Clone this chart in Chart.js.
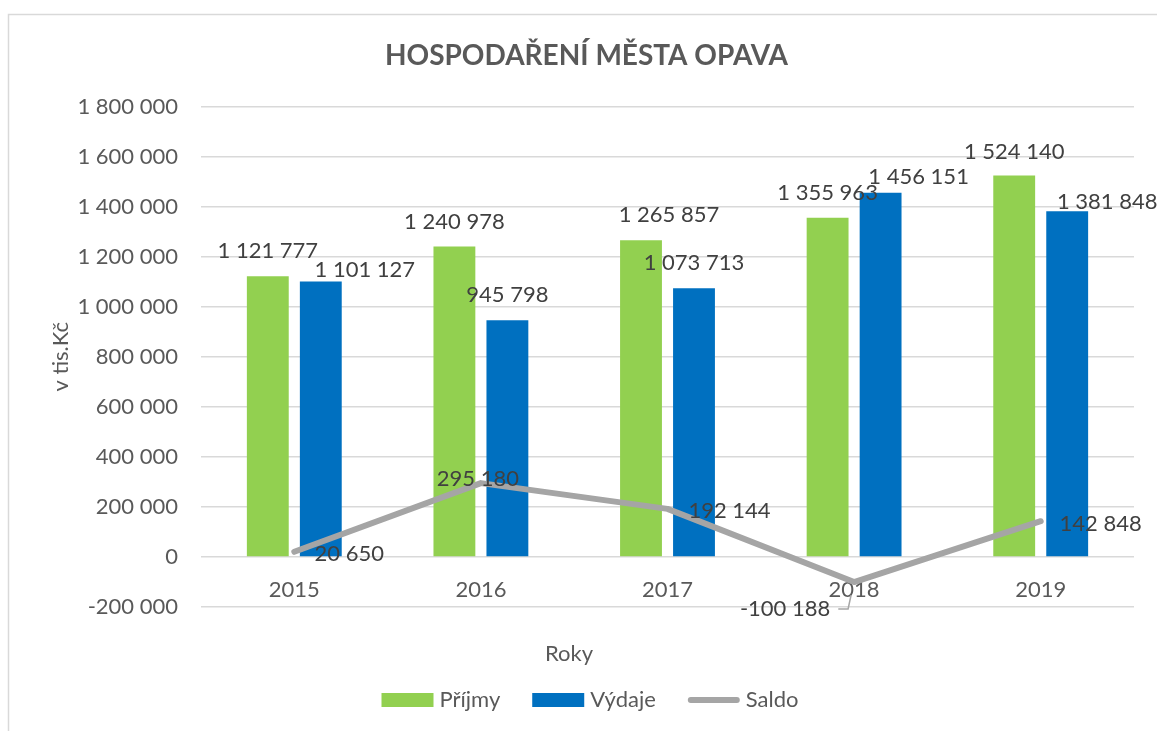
<!DOCTYPE html>
<html lang="cs">
<head>
<meta charset="utf-8">
<title>Hospodaření města Opava</title>
<script src="https://cdn.jsdelivr.net/npm/chart.js@4.4.1/dist/chart.umd.min.js"></script>
<style>
    html, body { margin: 0; padding: 0; background: #ffffff; }
    #wrap { position: relative; width: 1157px; height: 731px; }
</style>
</head>
<body>
<div id="wrap">
    <canvas id="opavaChart" width="1157" height="731"></canvas>
</div>
<script>
// Data (tis. Kč)
const years = ['2015', '2016', '2017', '2018', '2019'];
const prijmy = [1121777, 1240978, 1265857, 1355963, 1524140];
const vydaje = [1101127, 945798, 1073713, 1456151, 1381848];
const saldo = [20650, 295180, 192144, -100188, 142848];
const yTicks = [-200000, 0, 200000, 400000, 600000, 800000, 1000000, 1200000, 1400000, 1600000, 1800000];

// Label shifts (Excel labels were moved by hand) - [dx, dy] from the mark
const prijmyShift = [[0, -25], [0, -25], [28, -25], [0, -25], [0, -24]];
const vydajeShift = [[44, -12], [0, -25], [0, -25], [38, -16], [40, -9]];
const saldoShift = [[55, 2], [-3, -4], [62, 2], [-69, 27], [60, 3]];

const FONT = "Lato, 'Open Sans', 'DejaVu Sans', sans-serif";
const TEXT = '#595959';
const LABEL = '#404040';

// Czech number format: 1 234 567
function formatNum(v) {
    const s = String(Math.abs(Math.round(v))).replace(/\B(?=(\d{3})+(?!\d))/g, ' ');
    return (v < 0 ? '-' : '') + s;
}

// Frame + white background
const framePlugin = {
    id: 'frame',
    beforeDraw(chart) {
        const ctx = chart.ctx;
        ctx.save();
        ctx.fillStyle = '#ffffff';
        ctx.fillRect(0, 0, chart.width, chart.height);
        ctx.strokeStyle = '#d9d9d9';
        ctx.lineWidth = 1.5;
        ctx.beginPath();
        ctx.moveTo(8.5, chart.height);
        ctx.lineTo(8.5, 14.5);
        ctx.lineTo(chart.width, 14.5);
        ctx.stroke();
        ctx.restore();
    }
};

// Data labels
const labelPlugin = {
    id: 'valueLabels',
    afterDatasetsDraw(chart) {
        const ctx = chart.ctx;
        const shifts = [prijmyShift, vydajeShift, saldoShift];
        ctx.save();
        ctx.font = '22px ' + FONT;
        ctx.fillStyle = LABEL;
        ctx.textAlign = 'center';
        ctx.textBaseline = 'middle';
        chart.data.datasets.forEach((ds, i) => {
            const meta = chart.getDatasetMeta(i);
            meta.data.forEach((el, j) => {
                const [dx, dy] = shifts[i][j];
                const x = el.x + dx;
                const y = el.y + dy;
                const txt = formatNum(ds.data[j]);
                ctx.fillText(txt, x, y);
                // leader line for the moved negative label
                if (i === 2 && ds.data[j] < 0) {
                    const w = ctx.measureText(txt).width;
                    ctx.strokeStyle = '#a6a6a6';
                    ctx.lineWidth = 1.5;
                    ctx.beginPath();
                    ctx.moveTo(x + w / 2 + 8, y);
                    ctx.lineTo(el.x - 6, y);
                    ctx.lineTo(el.x - 3, el.y + 13);
                    ctx.stroke();
                }
            });
        });
        ctx.restore();
    }
};

// Axis title "Roky" and legend at the bottom
const bottomPlugin = {
    id: 'bottomLegend',
    afterDraw(chart) {
        const ctx = chart.ctx;
        ctx.save();
        ctx.font = '22px ' + FONT;
        ctx.fillStyle = TEXT;
        ctx.textBaseline = 'middle';
        ctx.textAlign = 'center';
        ctx.fillText('Roky', 569, 654);

        ctx.textAlign = 'left';
        const boxW = 52, gap = 6, spacing = 32, yMid = 700;
        const items = chart.data.datasets.map(ds => ({
            text: ds.label,
            color: ds.type === 'line' ? ds.borderColor : ds.backgroundColor,
            line: ds.type === 'line'
        }));
        let total = 0;
        items.forEach((it, k) => {
            it.w = boxW + gap + ctx.measureText(it.text).width;
            total += it.w + (k ? spacing : 0);
        });
        let x = 590 - total / 2;
        items.forEach(it => {
            if (it.line) {
                ctx.strokeStyle = it.color;
                ctx.lineWidth = 6;
                ctx.lineCap = 'round';
                ctx.beginPath();
                ctx.moveTo(x + 3, yMid);
                ctx.lineTo(x + boxW - 3, yMid);
                ctx.stroke();
            } else {
                ctx.fillStyle = it.color;
                ctx.fillRect(x, yMid - 7, boxW, 14);
            }
            ctx.fillStyle = TEXT;
            ctx.fillText(it.text, x + boxW + gap, yMid);
            x += it.w + spacing;
        });
        ctx.restore();
    }
};

const ctx = document.getElementById('opavaChart').getContext('2d');
new Chart(ctx, {
    type: 'bar',
    data: {
        labels: years,
        datasets: [
            {
                label: 'Příjmy',
                data: prijmy,
                backgroundColor: '#92d050',
                borderWidth: 0,
                order: 1
            },
            {
                label: 'Výdaje',
                data: vydaje,
                backgroundColor: '#0070c0',
                borderWidth: 0,
                order: 1
            },
            {
                type: 'line',
                label: 'Saldo',
                data: saldo,
                borderColor: '#a5a5a5',
                backgroundColor: '#a5a5a5',
                borderWidth: 6,
                borderJoinStyle: 'round',
                borderCapStyle: 'round',
                pointRadius: 0,
                tension: 0,
                order: 0
            }
        ]
    },
    options: {
        responsive: false,
        animation: false,
        categoryPercentage: 0.568,
        barPercentage: 0.79,
        layout: {
            padding: { top: 10, left: 39, right: 23, bottom: 124 }
        },
        plugins: {
            legend: { display: false },
            tooltip: { enabled: false },
            title: {
                display: true,
                text: 'HOSPODAŘENÍ MĚSTA OPAVA',
                color: TEXT,
                font: { family: FONT, size: 28, weight: 'bold', lineHeight: 1.2 },
                padding: { top: 29, bottom: 34 }
            }
        },
        scales: {
            x: {
                position: { y: 0 },
                offset: true,
                grid: { display: false },
                border: { display: false },
                ticks: {
                    color: TEXT,
                    font: { family: FONT, size: 22 },
                    padding: 12,
                    maxRotation: 0
                }
            },
            y: {
                min: -200000,
                max: 1800000,
                afterFit(scale) { scale.width = 162; },
                afterBuildTicks(scale) { scale.ticks = yTicks.map(v => ({ value: v })); },
                grid: { color: '#d9d9d9', lineWidth: 1.5, drawTicks: false },
                border: { display: false },
                ticks: {
                    color: TEXT,
                    font: { family: FONT, size: 22 },
                    padding: 23,
                    callback: (v) => formatNum(v)
                },
                title: {
                    display: true,
                    text: 'v tis.Kč',
                    color: TEXT,
                    font: { family: FONT, size: 22, lineHeight: 1.2 },
                    padding: { top: 9, bottom: 0 }
                }
            }
        }
    },
    plugins: [framePlugin, labelPlugin, bottomPlugin]
});
</script>
</body>
</html>
